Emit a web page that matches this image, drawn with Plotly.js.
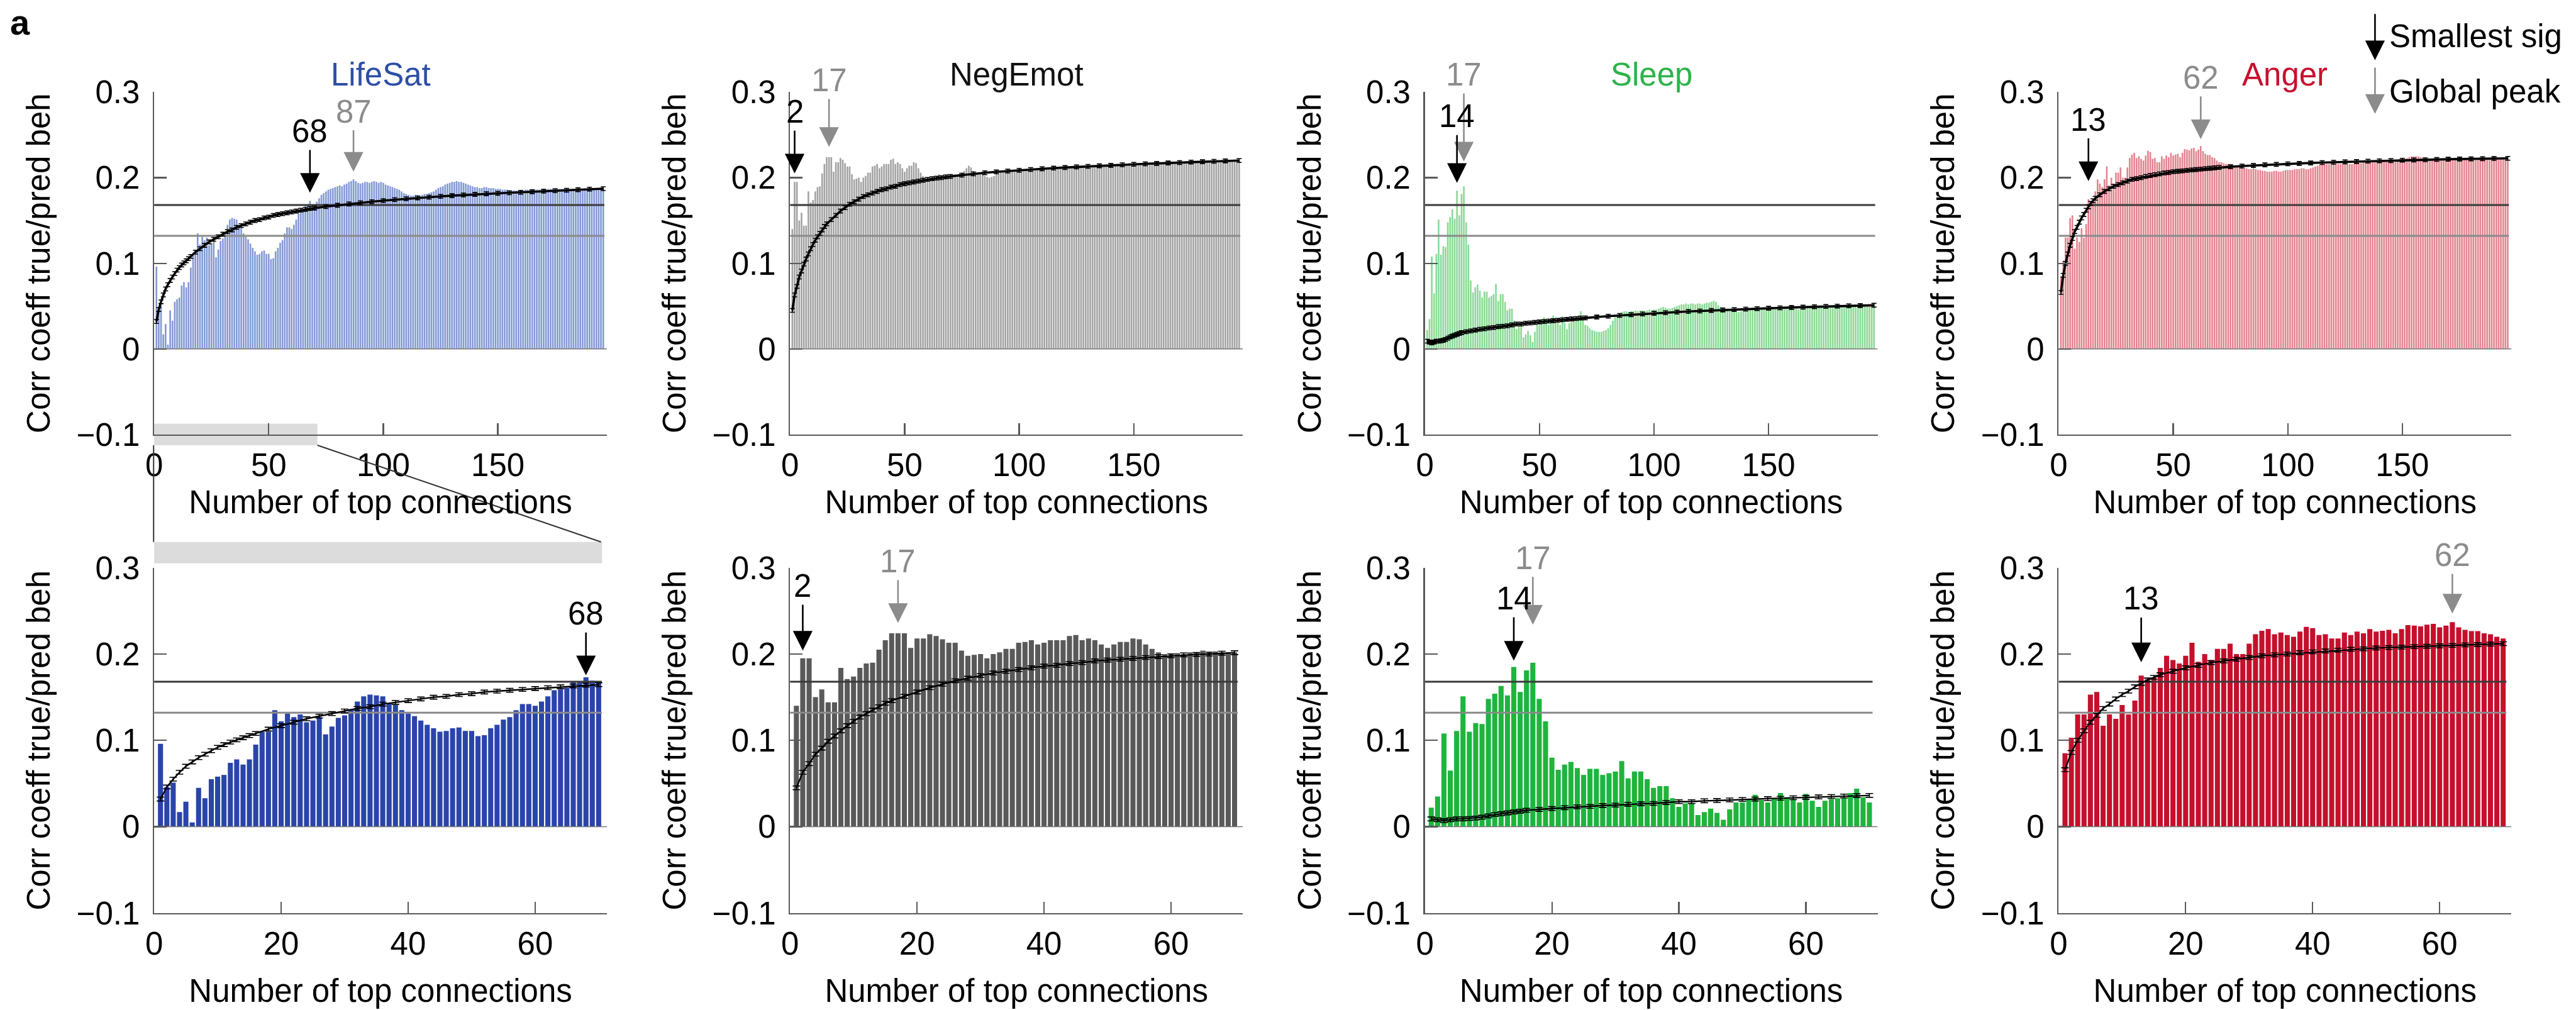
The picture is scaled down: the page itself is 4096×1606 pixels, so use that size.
<!DOCTYPE html>
<html><head><meta charset="utf-8">
<script src="https://cdn.plot.ly/plotly-3.0.1.min.js"></script>
<style>html,body{margin:0;padding:0;background:#fff}#chart{width:4096px;height:1606px}</style>
</head><body><div id="chart"></div>
<script>
// ---------------- DATA ----------------
const BEHAVIORS = ['LifeSat', 'NegEmot', 'Sleep', 'Anger'];
const X_TICKS_TOP = [0, 50, 100, 150];
const X_TICKS_BOTTOM = [0, 20, 40, 60];
const Y_TICKS = [-0.1, 0, 0.1, 0.2, 0.3];
const Y_TICK_LABELS = ['\u22120.1', '0', '0.1', '0.2', '0.3'];
const SIG_THRESHOLD = 0.168;      // dark horizontal line
const SIG_THRESHOLD_2 = 0.132;    // grey horizontal line

// bars for 1..70 top connections (shown in bottom row and start of top row)
const LIFESAT_1_70 = [0.096,0.046,0.051,0.017,0.029,0.005,0.045,0.033,0.055,0.058,
 0.060,0.074,0.078,0.072,0.078,0.095,0.110,0.110,0.135,0.122,
 0.131,0.127,0.130,0.121,0.123,0.127,0.107,0.116,0.126,0.129,
 0.136,0.145,0.151,0.153,0.152,0.151,0.143,0.141,0.135,0.131,
 0.128,0.123,0.118,0.114,0.110,0.111,0.114,0.115,0.111,0.111,
 0.105,0.106,0.114,0.118,0.124,0.127,0.135,0.142,0.142,0.140,
 0.145,0.151,0.158,0.159,0.161,0.168,0.168,0.173,0.169,0.168];
const NEGEMOT_1_70 = [0.140,0.195,0.195,0.150,0.159,0.144,0.144,0.184,0.171,0.174,
 0.184,0.189,0.190,0.205,0.216,0.224,0.224,0.224,0.207,0.218,
 0.218,0.223,0.221,0.217,0.213,0.213,0.204,0.198,0.199,0.200,
 0.195,0.200,0.202,0.206,0.206,0.213,0.214,0.216,0.211,0.213,
 0.216,0.216,0.216,0.221,0.222,0.216,0.218,0.216,0.211,0.207,
 0.211,0.214,0.214,0.218,0.217,0.211,0.206,0.202,0.200,0.200,
 0.201,0.200,0.202,0.201,0.204,0.202,0.203,0.202,0.202,0.202];
const SLEEP_1_70 = [0.022,0.035,0.108,0.065,0.111,0.151,0.110,0.120,0.119,0.148,
 0.154,0.163,0.152,0.185,0.156,0.181,0.190,0.148,0.122,0.080,
 0.066,0.072,0.075,0.068,0.060,0.067,0.067,0.060,0.062,0.064,
 0.076,0.056,0.064,0.064,0.055,0.045,0.047,0.047,0.033,0.023,
 0.027,0.027,0.0135,0.017,0.021,0.016,0.008,0.020,0.028,0.028,
 0.032,0.037,0.031,0.028,0.033,0.039,0.034,0.032,0.028,0.038,
 0.030,0.023,0.030,0.032,0.033,0.033,0.039,0.044,0.034,0.028];
const ANGER_1_70 = [0.085,0.103,0.130,0.130,0.153,0.156,0.117,0.130,0.125,0.141,
 0.130,0.146,0.175,0.171,0.173,0.184,0.198,0.193,0.189,0.198,
 0.213,0.191,0.200,0.193,0.206,0.206,0.212,0.200,0.200,0.212,
 0.223,0.227,0.229,0.223,0.225,0.222,0.220,0.226,0.2315,0.230,
 0.222,0.223,0.218,0.218,0.225,0.222,0.226,0.224,0.229,0.226,
 0.227,0.228,0.224,0.229,0.2335,0.233,0.232,0.234,0.235,0.231,
 0.233,0.237,0.231,0.228,0.2265,0.2265,0.224,0.223,0.220,0.218];

// bars for 71..196 top connections (top row only)
const LIFESAT_71_196 = [0.172,0.176,0.180,0.182,0.184,0.186,0.187,0.188,0.189,0.190,
 0.191,0.190,0.192,0.193,0.195,0.196,0.198,0.196,0.194,0.193,
 0.194,0.195,0.195,0.194,0.195,0.196,0.195,0.194,0.195,0.194,
 0.192,0.191,0.190,0.189,0.188,0.187,0.186,0.184,0.182,0.181,
 0.180,0.179,0.179,0.180,0.180,0.179,0.180,0.181,0.181,0.182,
 0.183,0.184,0.186,0.188,0.189,0.190,0.192,0.193,0.194,0.195,
 0.195,0.196,0.195,0.195,0.194,0.193,0.192,0.191,0.190,0.189,
 0.189,0.188,0.188,0.189,0.189,0.188,0.188,0.188,0.187,0.187,
 0.187,0.186,0.186,0.186,0.185,0.185,0.185,0.185,0.185,0.185,
 0.185,0.186,0.186,0.186,0.186,0.186,0.186,0.186,0.186,0.186,
 0.186,0.187,0.187,0.187,0.187,0.187,0.187,0.187,0.187,0.187,
 0.187,0.187,0.187,0.187,0.187,0.187,0.187,0.187,0.187,0.187,
 0.187,0.187,0.187,0.187,0.187,0.187];
const NEGEMOT_71_196 = [0.203,0.204,0.204,0.205,0.206,0.208,0.211,0.214,0.212,0.208,
 0.206,0.206,0.205,0.204,0.202,0.201,0.200,0.201,0.202,0.204,
 0.206,0.207,0.208,0.208,0.209,0.208,0.207,0.207,0.207,0.208,
 0.208,0.208,0.209,0.209,0.209,0.210,0.210,0.210,0.211,0.211,
 0.211,0.211,0.212,0.212,0.212,0.212,0.212,0.213,0.213,0.213,
 0.213,0.213,0.213,0.213,0.212,0.212,0.212,0.212,0.212,0.212,
 0.212,0.212,0.213,0.213,0.214,0.214,0.214,0.215,0.215,0.215,
 0.215,0.215,0.216,0.216,0.216,0.216,0.216,0.217,0.217,0.217,
 0.217,0.217,0.217,0.217,0.218,0.218,0.218,0.218,0.218,0.218,
 0.218,0.218,0.218,0.219,0.219,0.219,0.219,0.219,0.219,0.219,
 0.219,0.219,0.219,0.219,0.219,0.220,0.220,0.220,0.220,0.220,
 0.220,0.220,0.220,0.220,0.220,0.220,0.220,0.220,0.220,0.220,
 0.220,0.220,0.220,0.220,0.220,0.220];
const SLEEP_71_196 = [0.027,0.024,0.022,0.021,0.020,0.020,0.020,0.021,0.022,0.024,
 0.028,0.033,0.037,0.039,0.041,0.043,0.044,0.044,0.043,0.044,
 0.044,0.045,0.044,0.045,0.045,0.044,0.045,0.046,0.045,0.046,
 0.046,0.047,0.048,0.049,0.048,0.047,0.047,0.048,0.049,0.050,
 0.051,0.052,0.052,0.053,0.052,0.053,0.053,0.052,0.053,0.053,
 0.052,0.053,0.054,0.054,0.055,0.056,0.055,0.051,0.049,0.048,
 0.047,0.047,0.046,0.045,0.044,0.043,0.043,0.044,0.045,0.046,
 0.047,0.047,0.048,0.048,0.048,0.047,0.048,0.048,0.048,0.048,
 0.048,0.048,0.048,0.049,0.048,0.048,0.048,0.048,0.048,0.048,
 0.047,0.047,0.046,0.046,0.047,0.048,0.048,0.048,0.049,0.049,
 0.049,0.049,0.049,0.049,0.050,0.050,0.050,0.050,0.050,0.050,
 0.050,0.050,0.050,0.050,0.050,0.050,0.050,0.050,0.050,0.050,
 0.050,0.050,0.050,0.050,0.050,0.050];
const ANGER_71_196 = [0.218,0.217,0.216,0.216,0.215,0.214,0.214,0.213,0.212,0.212,
 0.211,0.211,0.210,0.210,0.211,0.210,0.209,0.209,0.208,0.208,
 0.207,0.207,0.207,0.208,0.208,0.207,0.207,0.208,0.209,0.209,
 0.209,0.209,0.210,0.210,0.210,0.211,0.211,0.210,0.210,0.211,
 0.212,0.213,0.214,0.215,0.216,0.216,0.216,0.216,0.217,0.216,
 0.216,0.216,0.216,0.216,0.216,0.216,0.216,0.216,0.216,0.217,
 0.217,0.217,0.218,0.219,0.219,0.219,0.220,0.220,0.220,0.220,
 0.220,0.221,0.221,0.221,0.221,0.221,0.221,0.221,0.222,0.222,
 0.222,0.223,0.224,0.225,0.225,0.225,0.225,0.224,0.223,0.222,
 0.222,0.222,0.222,0.222,0.222,0.222,0.222,0.222,0.222,0.222,
 0.222,0.222,0.222,0.222,0.222,0.222,0.222,0.222,0.222,0.222,
 0.222,0.222,0.222,0.222,0.222,0.222,0.222,0.222,0.222,0.222,
 0.222,0.222,0.222,0.222,0.222,0.222];

// black null curve (mean with error bars)
const CURVE_X = [1,2,3,4,5,6,7,8,9,10,11,12,13,14,15,16,
 18,20,22,24,26,28,30,32,34,36,38,40,42,44,46,48,50,52,54,56,58,60,62,64,66,68,70,
 75,80,85,90,95,100,105,110,115,120,125,130,135,140,145,150,155,160,165,170,175,180,185,190,196];
const LIFESAT_CURVE = [0.032,0.046,0.055,0.063,0.070,0.075,0.080,0.084,0.088,0.092,0.095,0.098,0.1005,0.103,0.1055,0.108,
 0.113,0.117,0.121,0.125,0.128,0.131,0.134,0.137,0.139,0.142,0.144,0.146,0.148,0.150,0.151,0.153,0.154,0.156,0.157,0.158,0.159,0.160,0.161,0.162,0.163,0.164,0.1645,
 0.1662,0.1678,0.1693,0.1707,0.172,0.1732,0.1743,0.1754,0.1764,0.1773,0.1782,0.179,0.1798,0.1805,0.1812,0.1818,0.1824,0.183,0.1836,0.1842,0.1848,0.1854,0.186,0.1866,0.1872];
const NEGEMOT_CURVE = [0.045,0.063,0.073,0.084,0.091,0.099,0.105,0.111,0.117,0.122,0.127,0.131,0.135,0.139,0.143,0.146,
 0.151,0.156,0.161,0.165,0.169,0.172,0.175,0.178,0.180,0.182,0.184,0.186,0.187,0.189,0.190,0.192,0.193,0.194,0.195,0.196,0.197,0.198,0.199,0.1995,0.200,0.201,0.2015,
 0.203,0.2045,0.2057,0.2068,0.2078,0.2087,0.2096,0.2104,0.2112,0.2119,0.2126,0.2133,0.2139,0.2145,0.2151,0.2157,0.2162,0.2167,0.2172,0.2177,0.2182,0.2187,0.2192,0.2196,0.2201];
const SLEEP_CURVE = [0.009,0.008,0.007,0.008,0.009,0.009,0.0095,0.010,0.011,0.0125,0.014,0.015,0.016,0.017,0.018,0.019,
 0.020,0.021,0.022,0.023,0.0235,0.0245,0.025,0.026,0.0265,0.027,0.028,0.029,0.029,0.030,0.0303,0.031,0.0315,0.032,0.0325,0.033,0.0335,0.034,0.0345,0.035,0.0355,0.036,0.0362,
 0.0372,0.0382,0.0391,0.040,0.0408,0.0416,0.0423,0.043,0.0437,0.0443,0.0449,0.0455,0.046,0.0465,0.047,0.0475,0.048,0.0484,0.0488,0.0492,0.0496,0.050,0.0503,0.0506,0.051];
const ANGER_CURVE = [0.066,0.086,0.100,0.111,0.121,0.129,0.137,0.142,0.148,0.153,0.157,0.162,0.166,0.170,0.173,0.176,
 0.180,0.184,0.187,0.190,0.192,0.194,0.196,0.198,0.199,0.200,0.2015,0.2025,0.2035,0.2045,0.2055,0.206,0.207,0.2075,0.208,0.2085,0.209,0.2095,0.210,0.2105,0.211,0.2115,0.212,
 0.2128,0.2136,0.2143,0.215,0.2156,0.2162,0.2167,0.2172,0.2177,0.2181,0.2185,0.2189,0.2193,0.2197,0.220,0.2204,0.2207,0.221,0.2213,0.2216,0.2218,0.222,0.2222,0.2224,0.2226];

// marked points: smallest significant number and global peak
const SMALLEST_SIG = [68, 2, 14, 13];
const GLOBAL_PEAK = [87, 17, 17, 62];
const SIG_ARROW_TIP_TOP = [0.1825, 0.205, 0.194, 0.196];
const PEAK_ARROW_TIP_TOP = [0.207, 0.236, 0.219, 0.245];
const SIG_ARROW_TIP_BOTTOM = [0.1754, 0.204, 0.1924, 0.1905];
const PEAK_ARROW_TIP_BOTTOM = [null, 0.236, 0.234, 0.247];

// ---------------- STYLE / LAYOUT ----------------
const W = 4096, H = 1606, S = 0.854;
const FONT = '"Liberation Sans", Arial, Helvetica, sans-serif';
const FS = 51;
const TITLE_COLORS = ['#2d4ea6', '#111111', '#2db34a', '#c8102e'];
const TOP_BAR_COLORS = ['#8399d4', '#a3a3a3', '#8ad996', '#e2848f'];
const BOTTOM_BAR_COLORS = ['#2a44a9', '#595959', '#1fb43d', '#c5102c'];
const PEAK_GREY = '#8c8c8c';
const AXIS_COLOR = '#5a5a5a';
const ARROW = {arrowhead: 2, arrowsize: 2.4, arrowwidth: 2.6};

const fx = p => p * S / W;          // full-size px -> paper x
const fy = p => 1 - p * S / H;      // full-size px from top -> paper y

const PANEL_LEFT = [287, 1471, 2653, 3833];
const PANEL_W = 843;
const ROW_Y = [[171.5, 809], [1057, 1700]];
const X_RANGE = [[0, 197.6], [0, 71.3]];
const N_BARS = [196, 70];

const BAR_FIRST = [LIFESAT_1_70, NEGEMOT_1_70, SLEEP_1_70, ANGER_1_70];
const BAR_REST = [LIFESAT_71_196, NEGEMOT_71_196, SLEEP_71_196, ANGER_71_196];
const CURVES = [LIFESAT_CURVE, NEGEMOT_CURVE, SLEEP_CURVE, ANGER_CURVE];

const traces = [];
const layout = {
  width: W, height: H,
  margin: {l: 0, r: 0, t: 0, b: 0, pad: 0},
  paper_bgcolor: '#ffffff', plot_bgcolor: 'rgba(0,0,0,0)',
  font: {family: FONT, size: FS, color: '#000'},
  showlegend: false, hovermode: false,
  annotations: [], shapes: []
};

for (let r = 0; r < 2; r++) {
  for (let i = 0; i < 4; i++) {
    const k = r * 4 + i + 1;
    const xa = k === 1 ? 'x' : 'x' + k, ya = k === 1 ? 'y' : 'y' + k;
    const xkey = k === 1 ? 'xaxis' : 'xaxis' + k, ykey = k === 1 ? 'yaxis' : 'yaxis' + k;
    const n = N_BARS[r];
    const vals = r === 0 ? BAR_FIRST[i].concat(BAR_REST[i]) : BAR_FIRST[i].slice(0, n);
    const xs = vals.map((v, j) => j + 1);

    layout[xkey] = {
      domain: [fx(PANEL_LEFT[i]), fx(PANEL_LEFT[i] + PANEL_W)],
      range: X_RANGE[r], anchor: ya, fixedrange: true,
      showline: true, linecolor: AXIS_COLOR, linewidth: 2.5,
      showgrid: false, zeroline: false,
      ticks: 'inside', ticklen: 18, tickwidth: 2.2, tickcolor: AXIS_COLOR,
      tickvals: r === 0 ? X_TICKS_TOP : X_TICKS_BOTTOM,
      ticktext: (r === 0 ? X_TICKS_TOP : X_TICKS_BOTTOM).map(String),
      tickfont: {family: FONT, size: FS, color: '#000'},
      ticklabelstandoff: 2,
      automargin: false,
      title: {text: 'Number of top connections', font: {family: FONT, size: FS, color: '#000'}, standoff: r === 0 ? 14 : 30}
    };
    layout[ykey] = {
      domain: [fy(ROW_Y[r][1]), fy(ROW_Y[r][0])],
      range: [-0.1, 0.3], anchor: xa, fixedrange: true,
      showline: true, linecolor: AXIS_COLOR, linewidth: 2.5,
      showgrid: false, zeroline: false,
      ticks: 'inside', ticklen: 20, tickwidth: 2.2, tickcolor: AXIS_COLOR,
      tickvals: Y_TICKS, ticktext: Y_TICK_LABELS,
      tickfont: {family: FONT, size: FS, color: '#000'},
      ticklabelstandoff: 10,
      automargin: false,
      title: {text: 'Corr coeff true/pred beh', font: {family: FONT, size: FS, color: '#000'}, standoff: 26}
    };

    // bars
    traces.push({
      type: 'bar', x: xs, y: vals, xaxis: xa, yaxis: ya,
      width: r === 0 ? 0.72 : 0.8,
      marker: {color: r === 0 ? TOP_BAR_COLORS[i] : BOTTOM_BAR_COLORS[i], line: {width: 0}},
      hoverinfo: 'skip'
    });
    // zero baseline
    traces.push({type: 'scatter', mode: 'lines', x: [0, X_RANGE[r][1]], y: [0, 0], xaxis: xa, yaxis: ya,
      line: {color: '#777777', width: 1.6}, hoverinfo: 'skip'});
    // threshold lines
    traces.push({type: 'scatter', mode: 'lines', x: [0, n + 0.5], y: [SIG_THRESHOLD_2, SIG_THRESHOLD_2], xaxis: xa, yaxis: ya,
      line: {color: '#8a8a8a', width: 3}, hoverinfo: 'skip'});
    traces.push({type: 'scatter', mode: 'lines', x: [0, n + 0.5], y: [SIG_THRESHOLD, SIG_THRESHOLD], xaxis: xa, yaxis: ya,
      line: {color: '#3a3a3a', width: 3}, hoverinfo: 'skip'});
    // null curve with error bars
    const cx = [], cy = [];
    CURVE_X.forEach((x, j) => { if (x <= n) { cx.push(x); cy.push(CURVES[i][j]); } });
    traces.push({type: 'scatter', mode: 'lines', x: cx, y: cy, xaxis: xa, yaxis: ya,
      line: {color: '#000', width: r === 0 ? 3.6 : 2.4},
      error_y: {type: 'constant', value: 0.0022, color: '#000', thickness: 1.6, width: r === 0 ? 4 : 6},
      hoverinfo: 'skip'});

    // titles on top row
    if (r === 0) {
      layout.annotations.push({xref: 'paper', yref: 'paper', x: fx(PANEL_LEFT[i] + PANEL_W / 2), y: fy(139),
        xanchor: 'center', yanchor: 'middle', text: BEHAVIORS[i], showarrow: false,
        font: {family: FONT, size: FS, color: TITLE_COLORS[i]}});
    }
    // arrows
    const sigTip = r === 0 ? SIG_ARROW_TIP_TOP : SIG_ARROW_TIP_BOTTOM;
    const peakTip = r === 0 ? PEAK_ARROW_TIP_TOP : PEAK_ARROW_TIP_BOTTOM;
    const sigOff = r === 0 ? [98, 98, 106, 98] : [98, 103, 99, 101];
    const peakOff = r === 0 ? [96, 106, 138, 98] : [0, 98, 106, 93];
    if (peakTip[i] !== null) {
      layout.annotations.push(Object.assign({xref: xa, yref: ya, x: GLOBAL_PEAK[i], y: peakTip[i], text: String(GLOBAL_PEAK[i]),
        showarrow: true, arrowcolor: PEAK_GREY, ax: 0, ay: -peakOff[i],
        font: {family: FONT, size: FS, color: PEAK_GREY}}, ARROW));
    }
    layout.annotations.push(Object.assign({xref: xa, yref: ya, x: SMALLEST_SIG[i], y: sigTip[i], text: String(SMALLEST_SIG[i]),
      showarrow: true, arrowcolor: '#000', ax: 0, ay: -sigOff[i],
      font: {family: FONT, size: FS, color: '#000'}}, ARROW));
  }
}

// panel letter
layout.annotations.push({xref: 'paper', yref: 'paper', x: fx(38), y: fy(42), xanchor: 'center', yanchor: 'middle',
  text: '<b>a</b>', showarrow: false, font: {family: FONT, size: 56, color: '#000'}});

// key at top right
layout.annotations.push(Object.assign({xref: 'paper', yref: 'paper', x: fx(4422), y: fy(112), text: '', showarrow: true,
  arrowcolor: '#000', axref: 'pixel', ayref: 'pixel', ax: 0, ay: -75}, ARROW));
layout.annotations.push(Object.assign({xref: 'paper', yref: 'paper', x: fx(4422), y: fy(212), text: '', showarrow: true,
  arrowcolor: PEAK_GREY, axref: 'pixel', ayref: 'pixel', ax: 0, ay: -75}, ARROW));
layout.annotations.push({xref: 'paper', yref: 'paper', x: fx(4446), y: fy(67), xanchor: 'left', yanchor: 'middle',
  text: 'Smallest sig', showarrow: false, font: {family: FONT, size: FS, color: '#000'}});
layout.annotations.push({xref: 'paper', yref: 'paper', x: fx(4446), y: fy(170), xanchor: 'left', yanchor: 'middle',
  text: 'Global peak', showarrow: false, font: {family: FONT, size: FS, color: '#000'}});

// zoom indicator (band on top LifeSat x-axis, band above bottom LifeSat, connectors)
layout.shapes.push({type: 'rect', xref: 'paper', yref: 'paper', layer: 'below',
  x0: fx(287), x1: fx(591), y0: fy(829), y1: fy(789), fillcolor: '#dcdcdc', line: {width: 0}});
layout.shapes.push({type: 'rect', xref: 'paper', yref: 'paper', layer: 'below',
  x0: fx(287), x1: fx(1121), y0: fy(1049), y1: fy(1009), fillcolor: '#dcdcdc', line: {width: 0}});
layout.shapes.push({type: 'line', xref: 'paper', yref: 'paper', x0: fx(286), x1: fx(286), y0: fy(829), y1: fy(1009),
  line: {color: '#333', width: 2}});
layout.shapes.push({type: 'line', xref: 'paper', yref: 'paper', x0: fx(591), x1: fx(1119), y0: fy(829), y1: fy(1009),
  line: {color: '#333', width: 2}});

Plotly.newPlot('chart', traces, layout, {staticPlot: true, displayModeBar: false});
</script></body></html>
